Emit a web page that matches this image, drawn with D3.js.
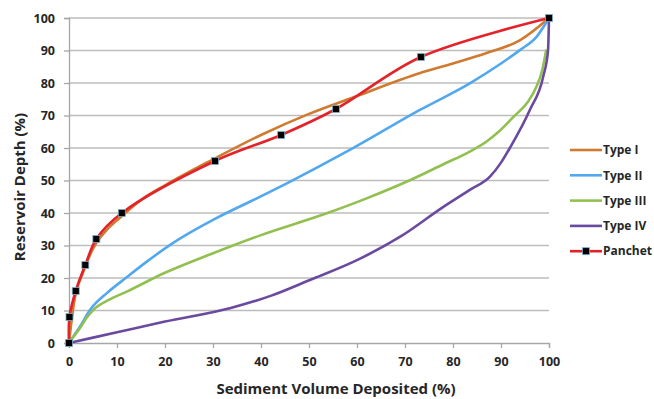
<!DOCTYPE html>
<html>
<head>
<meta charset="utf-8">
<script src="https://cdn.jsdelivr.net/npm/d3@7"></script>
<style>
  body { margin: 0; background: #fff; }
  svg text { font-family: "Open Sans", "DejaVu Sans", sans-serif; fill: #262626; }
  .tick-lbl { font-size: 12.5px; font-weight: 700; }
  .axis-title { font-size: 15px; font-weight: 700; }
  .legend-lbl { font-size: 12px; font-weight: 700; }
</style>
</head>
<body>
<svg id="chart" width="654" height="399"></svg>
<script>
// Data (x = sediment volume %, y = depth %)
const seriesNames = ['Type I', 'Type II', 'Type III', 'Type IV', 'Panchet']
const typeI = [[0,0],[1,12],[3,22],[5,29],[8,35],[11,39],[15,44],[20,48.5],[30,56.5],[40,64],[50,70.5],[60,76],[73,83],[80,86],[87,89.2],[94,93.2],[100,100]]
const typeII = [[0,0],[0.9,2],[2.3,5.1],[4.4,10.2],[8,15.5],[12,20.2],[16,24.8],[21.7,30.8],[30.8,38.5],[38.4,44],[46,49.6],[58.5,59.4],[73.1,71.7],[83.5,79.9],[90,86],[94,90.2],[97.4,94.2],[100,100]]
const typeIII = [[0,0],[1,2],[2.3,4.6],[3.6,7.6],[5.1,10.2],[8.5,13.4],[12,15.8],[20,21.6],[30,27.6],[40,33.2],[53.7,39.9],[62,44.5],[70.3,49.6],[78,55],[83.5,58.9],[87,62],[89.5,65],[92.6,69.6],[95.5,74],[97.4,78.9],[98.6,84],[99.4,90]]
const typeIV = [[0,0],[10,3.3],[20,6.6],[33.5,10.7],[42,14.5],[50.2,19.4],[60,25.5],[69,32.7],[78,41.9],[83.5,47.1],[87.7,51.2],[90,55.5],[92,60.4],[96,71.7],[98.8,82],[99.8,90],[100,100]]
const panchet = [[0,0],[0.1,8],[1.4,16],[3.4,24],[5.7,32],[11,40],[30.4,56],[44.2,64],[55.6,72],[73.3,88],[100,100]]
const xTicks = [0,10,20,30,40,50,60,70,80,90,100]
const yTicks = [0,10,20,30,40,50,60,70,80,90,100]

const colors = ['#d07a30', '#52a8ee', '#92c050', '#6a4a9e', '#e2232a']
const seriesData = [typeI, typeII, typeIII, typeIV, panchet]

const svg = d3.select('#chart')
const m = {left: 69, right: 105, top: 18, bottom: 56}
const W = 654, H = 399
const x = d3.scaleLinear().domain([0, 100]).range([m.left, W - m.right])
const y = d3.scaleLinear().domain([0, 100]).range([H - m.bottom, m.top])

/* Gridlines */
svg.append('g').selectAll('line').data(yTicks.filter(t => t > 0)).enter()
    .append('line')
    .attr('x1', x(0)).attr('x2', x(100))
    .attr('y1', d => y(d)).attr('y2', d => y(d))
    .attr('stroke', '#bdbdbd').attr('stroke-width', 1.3)

/* Axes */
const yAxis = svg.append('g').attr('transform', `translate(${x(0)},0)`)
    .call(d3.axisLeft(y).tickValues(yTicks).tickSize(5).tickPadding(9))
const xAxis = svg.append('g').attr('transform', `translate(0,${y(0)})`)
    .call(d3.axisBottom(x).tickValues(xTicks).tickSize(5))
;[xAxis, yAxis].forEach(a => {
    a.select('.domain').attr('stroke', '#a6a6a6').attr('stroke-width', 1.3)
    a.selectAll('.tick line').attr('stroke', '#a6a6a6').attr('stroke-width', 1.3)
    a.selectAll('.tick text').attr('class', 'tick-lbl').attr('font-family', null).attr('font-size', null).attr('fill', null)
})
xAxis.selectAll('.tick text').attr('y', 23).attr('dy', null)

svg.append('text').attr('class', 'axis-title')
    .attr('x', 336).attr('y', 394)
    .attr('text-anchor', 'middle').text('Sediment Volume Deposited (%)')
svg.append('text').attr('class', 'axis-title')
    .attr('transform', `translate(25,187) rotate(-90)`)
    .attr('text-anchor', 'middle').text('Reservoir Depth (%)')

/* Lines - type curves monotone, Panchet through its markers with Catmull-Rom */
const monoLine = d3.line().x(d => x(d[0])).y(d => y(d[1])).curve(d3.curveMonotoneX)
const crLine = d3.line().x(d => x(d[0])).y(d => y(d[1])).curve(d3.curveCatmullRom.alpha(0.5))
svg.append('g').selectAll('path').data(seriesData).enter()
    .append('path')
    .attr('d', (d, i) => i === 4 ? crLine(d) : monoLine(d))
    .attr('fill', 'none')
    .attr('stroke', (d, i) => colors[i])
    .attr('stroke-width', 2.6)
    .attr('stroke-linejoin', 'round')
    .attr('stroke-linecap', 'round')

/* Panchet markers */
svg.append('g').selectAll('rect').data(panchet).enter()
    .append('rect')
    .attr('x', d => x(d[0]) - 3.5).attr('y', d => y(d[1]) - 3.5)
    .attr('width', 7).attr('height', 7)
    .attr('fill', '#000').attr('stroke', '#7fb0c8').attr('stroke-width', 0.8)

/* Legend */
const lg = svg.append('g').selectAll('g').data(seriesNames).enter()
    .append('g').attr('transform', (d, i) => `translate(570,${150 + i * 25.3})`)
lg.append('line').attr('x1', 0).attr('x2', 32).attr('y1', 0).attr('y2', 0)
    .attr('stroke', (d, i) => colors[i]).attr('stroke-width', 2.6)
lg.filter(d => d === 'Panchet').append('rect')
    .attr('x', 12.5).attr('y', -3.5).attr('width', 7).attr('height', 7)
    .attr('fill', '#000').attr('stroke', '#7fb0c8').attr('stroke-width', 0.8)
lg.append('text').attr('class', 'legend-lbl').attr('x', 33).attr('y', 0).attr('dy', '0.35em').text(d => d)
</script>
</body>
</html>
